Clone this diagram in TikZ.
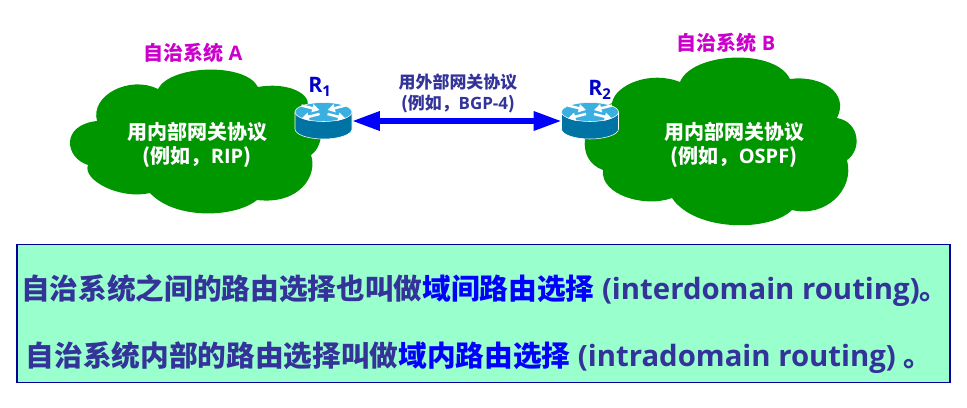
\documentclass[tikz,border=0pt]{standalone}
\usepackage{fontspec}
\usepackage{xcolor}
\usetikzlibrary{arrows.meta, positioning}
\setmainfont{Open Sans}
\newfontfamily\cjk{Noto Sans CJK SC}
\newcommand{\zh}[1]{{\cjk #1}}
\newcommand{\en}[1]{{\fontsize{22}{26}\selectfont #1}}
\definecolor{asgreen}{RGB}{0,150,0}
\definecolor{asmagenta}{RGB}{204,0,204}
\definecolor{notenavy}{RGB}{51,51,153}
\definecolor{notefill}{RGB}{153,255,204}
\definecolor{noteedge}{RGB}{0,0,153}
\definecolor{rlabel}{RGB}{0,0,204}
\definecolor{linkblue}{RGB}{0,0,255}
\definecolor{routertop}{RGB}{60,175,225}
\definecolor{routerside}{RGB}{0,115,165}

\begin{document}
\begin{tikzpicture}[
    x=0.75pt, y=-0.75pt,
    aslabel/.style={font=\fontsize{15}{18}\selectfont\bfseries, text=asmagenta, inner sep=0pt},
    inner/.style={font=\fontsize{15}{18}\selectfont\bfseries, text=white, align=center, inner sep=0pt},
    outer/.style={font=\fontsize{12.7}{15.8}\selectfont\bfseries, text=notenavy, align=center, inner sep=0pt},
    rname/.style={font=\fontsize{16}{18}\selectfont\bfseries, text=rlabel, inner sep=0pt},
    rbase/.style={rectangle, minimum width=43pt, minimum height=27pt, inner sep=0pt},
    note/.style={font=\fontsize{21.5}{26}\selectfont\bfseries, text=notenavy, inner sep=0pt, anchor=west},
    notebox/.style={rectangle, draw=noteedge, fill=notefill, line width=0.8pt, inner sep=0pt,
                    minimum width=699.75pt, minimum height=103.5pt},
    arr/.style={{Triangle[length=21pt, width=13.5pt]}-{Triangle[length=21pt, width=13.5pt]},
                draw=linkblue, line width=4.5pt, shorten <=-0.5pt, shorten >=-0.5pt},
    router/.pic={
      \fill[routerside, draw=white, line width=0.4pt] (-28.5,-9) -- (-28.5,8)
        arc[start angle=180, end angle=0, x radius=28.5, y radius=10] -- (28.5,-9) -- cycle;
      \fill[routertop, draw=white, line width=0.4pt] (0,-9) ellipse [x radius=28.5, y radius=9.5];
      \foreach \sx in {-1,1}{
        \draw[white, line width=1.9pt, -{Triangle[length=5.5pt, width=6pt]}]
          (\sx*22,-15.5) -- (\sx*4,-11);
        \draw[white, line width=1.9pt, -{Triangle[length=5.5pt, width=6pt]}]
          (\sx*4,-7) -- (\sx*22,-2.5);
      }
    }
  ]

    \useasboundingbox (0,0) rectangle (967,407);

    \fill[asgreen] (158,89) .. controls (170,65) and (245,62) .. (258,87)
      .. controls (285,82) and (310,92) .. (308,106)
      .. controls (325,118) and (325,145) .. (311,155)
      .. controls (318,175) and (300,205) .. (257,200)
      .. controls (235,218) and (175,220) .. (150,193)
      .. controls (120,200) and (82,180) .. (88,165)
      .. controls (65,158) and (60,125) .. (97,121)
      .. controls (90,95) and (130,75) .. (158,89) -- cycle;
    \fill[asgreen] (680,82) .. controls (692,52) and (775,48) .. (790,79)
      .. controls (820,75) and (850,92) .. (837,118)
      .. controls (860,122) and (862,150) .. (847,160)
      .. controls (855,190) and (825,218) .. (792,210)
      .. controls (770,232) and (695,232) .. (672,198)
      .. controls (645,208) and (600,195) .. (603,170)
      .. controls (575,160) and (580,120) .. (612,103)
      .. controls (615,85) and (650,70) .. (680,82) -- cycle;

    \node[aslabel] (labelA) at (193,53) {\zh{自治系统} A};
    \node[aslabel] (labelB) at (726,43) {\zh{自治系统} B};
    \node[inner] (igpA) at (197,145) {\zh{用内部网关协议}\\\zh{(例如，}RIP\zh{)}};
    \node[inner] (igpB) at (734,144.5) {\zh{用内部网关协议}\\\zh{(例如，}OSPF\zh{)}};

    \node[rbase] (R1) at (323.5,121) {};
    \node[rbase] (R2) at (590,121) {};
    \pic at (R1) {router};
    \pic at (R2) {router};
    \node[rname] (nameR1) at (320,87) {R\textsubscript{1}};
    \node[rname] (nameR2) at (600,90) {R\textsubscript{2}};

    \draw[arr] (R1) -- (R2);
    \node[outer] (egp) at (458,93.5) {\zh{用外部网关协议}\\\zh{(例如，}BGP-4\zh{)}};

    \node[notebox] (box) at (483.5,313.75) {};
    \node[note] (inter) at (21,291) {\zh{自治系统之间的路由选择也叫做}\textcolor{linkblue}{\zh{域间路由选择}} \en{(interdomain routing)}\zh{。}};
    \node[note] (intra) at (25.5,358) {\zh{自治系统内部的路由选择叫做}\textcolor{linkblue}{\zh{域内路由选择}} \en{(intradomain routing)} \zh{。}};

  \end{tikzpicture}
\end{document}
